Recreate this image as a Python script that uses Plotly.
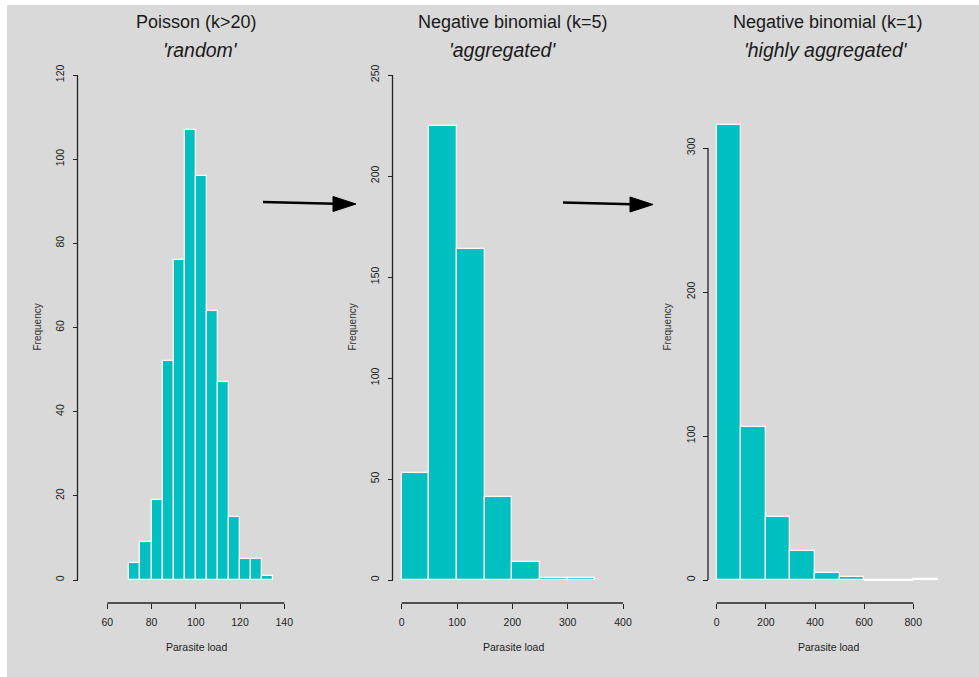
import plotly.graph_objects as go

W, H = 979, 677

# ---- histogram data ----
pois_breaks = [70, 75, 80, 85, 90, 95, 100, 105, 110, 115, 120, 125, 130, 135]
pois_counts = [4, 9, 19, 52, 76, 107, 96, 64, 47, 15, 5, 5, 1]
pois_xticks = [60, 80, 100, 120, 140]
pois_yticks = [0, 20, 40, 60, 80, 100, 120]

nb5_breaks = [0, 50, 100, 150, 200, 250, 300, 350]
nb5_counts = [53, 225, 164, 41, 9, 1, 1]
nb5_xticks = [0, 100, 200, 300, 400]
nb5_yticks = [0, 50, 100, 150, 200, 250]

nb1_breaks = [0, 100, 200, 300, 400, 500, 600, 700, 800, 900]
nb1_counts = [316, 106, 44, 20, 5, 2, 0, 0, 1]
nb1_xticks = [0, 200, 400, 600, 800]
nb1_yticks = [0, 100, 200, 300]

titles = ["Poisson (k>20)", "Negative binomial (k=5)", "Negative binomial (k=1)"]
subtitles = ["'random'", "'aggregated'", "'highly aggregated'"]
x_label = "Parasite load"
y_label = "Frequency"

# ---- styling ----
FONT = "Liberation Sans, Arial, Helvetica, sans-serif"
BAR = "#00BFC0"
INK = "#222222"
BG = "#D9D9D9"


def px_x(p):
    return p / W


def px_y(p):
    return 1 - p / H


def span(v0, p0, v1, p1, lo, hi):
    """Axis range whose values v0, v1 land on pixels p0, p1, spanning pixels lo..hi."""
    k = (v1 - v0) / (p1 - p0)
    return [v0 + (lo - p0) * k, v0 + (hi - p0) * k]


panels = [
    dict(breaks=pois_breaks, counts=pois_counts, xt=pois_xticks, yt=pois_yticks,
         xmap=(107.3, 284.3), ymap=(580, 75), ypos=77.5, xspan=(70, 300),
         cx=196, sx=200, fx=37),
    dict(breaks=nb5_breaks, counts=nb5_counts, xt=nb5_xticks, yt=nb5_yticks,
         xmap=(401.7, 623.0), ymap=(580, 75), ypos=392.5, xspan=(385, 640),
         cx=513, sx=502, fx=352),
    dict(breaks=nb1_breaks, counts=nb1_counts, xt=nb1_xticks, yt=nb1_yticks,
         xmap=(716.7, 913.3), ymap=(580, 148), ypos=708, xspan=(700, 955),
         cx=828, sx=826, fx=667),
]

X_AXIS_PX = 603
Y_SPAN = (592, 60)

fig = go.Figure()
shapes = [dict(type="rect", xref="paper", yref="paper", x0=px_x(7), x1=1,
               y0=0, y1=px_y(5), fillcolor=BG, line=dict(width=0), layer="below")]
annotations = []
layout = {}

for i, p in enumerate(panels, start=1):
    sfx = "" if i == 1 else str(i)
    xa, ya = "x" + sfx, "y" + sfx
    b, c = p["breaks"], p["counts"]
    centers = [(b[j] + b[j + 1]) / 2 for j in range(len(c))]
    widths = [b[j + 1] - b[j] for j in range(len(c))]

    fig.add_trace(go.Bar(
        x=centers, y=c, width=widths, xaxis=xa, yaxis=ya,
        marker=dict(color=BAR, line=dict(color="white", width=1.3)),
        hoverinfo="x+y",
    ))

    # empty bins are drawn as a flat white outline on the baseline
    zx, zy = [], []
    for j, n in enumerate(c):
        if n == 0:
            zx += [b[j], b[j + 1], None]
            zy += [0, 0, None]
    if zx:
        fig.add_trace(go.Scatter(x=zx, y=zy, mode="lines", xaxis=xa, yaxis=ya,
                                 line=dict(color="white", width=2.2),
                                 hoverinfo="skip", cliponaxis=False))

    xt, yt = p["xt"], p["yt"]
    layout["xaxis" + sfx] = dict(
        domain=[px_x(p["xspan"][0]), px_x(p["xspan"][1])],
        range=span(xt[0], p["xmap"][0], xt[-1], p["xmap"][1], *p["xspan"]),
        anchor="free", position=px_y(X_AXIS_PX),
        tickvals=xt, ticks="outside", ticklen=5, tickwidth=1.2, tickcolor=INK,
        ticklabelstandoff=4,
        tickfont=dict(family=FONT, size=10.5, color=INK),
        showline=False, showgrid=False, zeroline=False, fixedrange=True,
    )
    layout["yaxis" + sfx] = dict(
        domain=[px_y(Y_SPAN[0]), px_y(Y_SPAN[1])],
        range=span(yt[0], p["ymap"][0], yt[-1], p["ymap"][1], *Y_SPAN),
        anchor="free", position=px_x(p["ypos"]),
        tickvals=yt, ticks="outside", ticklen=5, tickwidth=1.2, tickcolor=INK,
        tickangle=-90, ticklabelstandoff=4,
        tickfont=dict(family=FONT, size=10.5, color=INK),
        showline=False, showgrid=False, zeroline=False, fixedrange=True,
    )

    # R-style axis lines spanning only the first..last tick
    shapes.append(dict(type="line", xref=xa, yref="paper", x0=xt[0], x1=xt[-1],
                       y0=px_y(X_AXIS_PX), y1=px_y(X_AXIS_PX),
                       line=dict(color=INK, width=1.3)))
    shapes.append(dict(type="line", xref="paper", yref=ya,
                       x0=px_x(p["ypos"]), x1=px_x(p["ypos"]), y0=yt[0], y1=yt[-1],
                       line=dict(color=INK, width=1.3)))

    annotations += [
        dict(text=titles[i - 1], x=px_x(p["cx"]), y=px_y(22), xref="paper", yref="paper",
             showarrow=False, xanchor="center", yanchor="middle",
             font=dict(family=FONT, size=18, color="#1a1a1a")),
        dict(text="<i>" + subtitles[i - 1] + "</i>", x=px_x(p["sx"]), y=px_y(50),
             xref="paper", yref="paper", showarrow=False, xanchor="center", yanchor="middle",
             font=dict(family=FONT, size=19.5, color="#1a1a1a")),
        dict(text=y_label, x=px_x(p["fx"]), y=px_y(327.5), xref="paper", yref="paper",
             showarrow=False, textangle=-90, xanchor="center", yanchor="middle",
             font=dict(family=FONT, size=10, color="#333333")),
        dict(text=x_label, x=px_x(p["cx"]), y=px_y(647), xref="paper", yref="paper",
             showarrow=False, xanchor="center", yanchor="middle",
             font=dict(family=FONT, size=10.5, color=INK)),
    ]

# transition arrows between the panels
for (x0, y0, xb, xt_, yt_) in [(263, 202, 333, 356, 204), (563, 202.5, 630, 653, 204.5)]:
    shapes.append(dict(type="line", xref="paper", yref="paper",
                       x0=px_x(x0), y0=px_y(y0), x1=px_x(xb + 2), y1=px_y(yt_ - 0.3),
                       line=dict(color="black", width=2.5)))
    path = "M{},{} L{},{} L{},{} Z".format(
        px_x(xb), px_y(yt_ - 7.5), px_x(xt_), px_y(yt_), px_x(xb), px_y(yt_ + 7.5))
    shapes.append(dict(type="path", xref="paper", yref="paper", path=path,
                       fillcolor="black", line=dict(color="black", width=1)))

fig.update_layout(
    width=W, height=H, margin=dict(l=0, r=0, t=0, b=0),
    paper_bgcolor="white", plot_bgcolor="rgba(0,0,0,0)",
    showlegend=False, bargap=0,
    shapes=shapes, annotations=annotations, **layout,
)

fig.write_html("out.html")
